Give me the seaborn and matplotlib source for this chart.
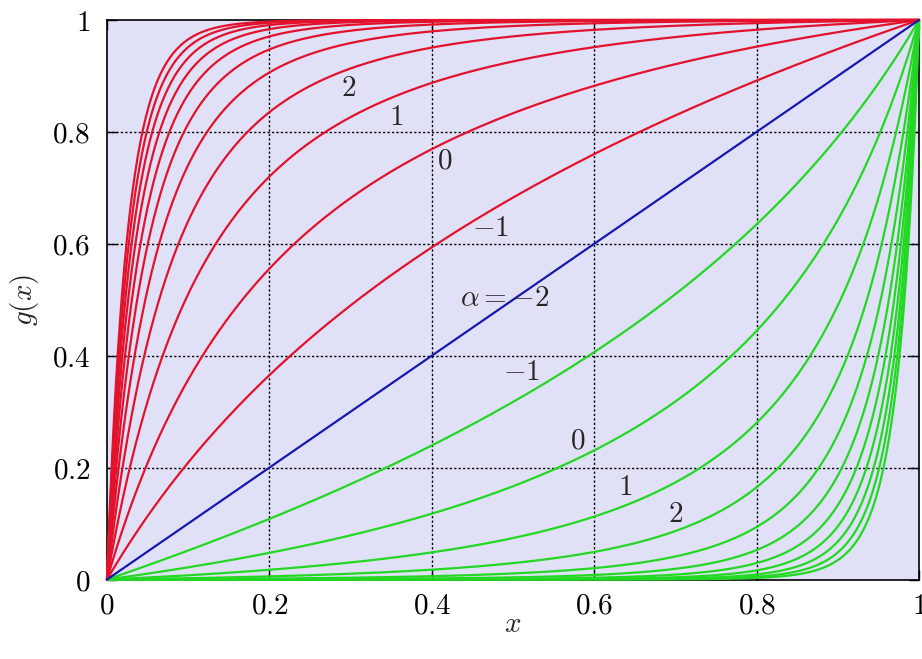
import numpy as np
import pandas as pd
import matplotlib
matplotlib.use("Agg")
import matplotlib.pyplot as plt
from matplotlib.ticker import FixedLocator
import seaborn as sns

# Family parameter values; alpha = -2 is the diagonal
alphas = [-2, -1, 0, 1, 2, 3, 4, 5, 6, 7, 8, 9]
spread = 4.0  # curvature constant c in g(x) = (1 - (1+cx)^-(a+1)) / (1 - (1+c)^-(a+1))

tick_values = [0, 0.2, 0.4, 0.6, 0.8, 1]
tick_labels = ["0", "0.2", "0.4", "0.6", "0.8", "1"]

# curve labels: text, x, y
upper_labels = [("2", 0.297, 0.878), ("1", 0.356, 0.826), ("0", 0.416, 0.749),
                ("-1", 0.472, 0.628)]
lower_labels = [("-1", 0.511, 0.371), ("0", 0.580, 0.249), ("1", 0.638, 0.165),
                ("2", 0.700, 0.117)]
diag_label = ("\\alpha = -2", 0.490, 0.503)

RED = "#e3122c"
GREEN = "#22d822"
BLUE = "#1818b0"
PANEL = "#e0e0f7"


def g_upper(x, a):
    n = a + 1
    if n == 0:
        return np.log1p(spread * x) / np.log1p(spread)
    return (1.0 - (1.0 + spread * x) ** (-n)) / (1.0 - (1.0 + spread) ** (-n))


xs = np.linspace(0.0, 1.0, 3001)
frames = []
for a in alphas:
    if a == -2:
        frames.append(pd.DataFrame({"x": xs, "g": g_upper(xs, a), "curve": "diag"}))
    else:
        frames.append(pd.DataFrame({"x": xs, "g": g_upper(xs, a), "curve": f"up{a}"}))
        frames.append(pd.DataFrame({"x": xs, "g": 1.0 - g_upper(1.0 - xs, a),
                                    "curve": f"lo{a}"}))
df = pd.concat(frames, ignore_index=True)

palette = {}
for key in df["curve"].unique():
    palette[key] = BLUE if key == "diag" else (RED if key.startswith("up") else GREEN)

sns.set_style("ticks")
plt.rcParams["font.family"] = ["DejaVu Serif"]
plt.rcParams["mathtext.fontset"] = "cm"

fig = plt.figure(figsize=(9.22, 6.59), dpi=100)
ax = fig.add_axes([107 / 922, 1 - 579.5 / 659, 812 / 922, 559.5 / 659])
ax.set_facecolor(PANEL)

# dotted grid underneath the curves
for v in [0.2, 0.4, 0.6, 0.8]:
    ax.axvline(v, color="black", lw=1.0, ls=(0, (1.6, 1.6)), zorder=1)
    ax.axhline(v, color="black", lw=1.0, ls=(0, (1.6, 1.6)), zorder=1)

order = [k for k in palette if k.startswith("lo")] + \
        [k for k in palette if k.startswith("up")] + ["diag"]
for key in order:
    sub = df[df["curve"] == key]
    sns.lineplot(data=sub, x="x", y="g", color=palette[key], lw=1.6,
                 estimator=None, sort=False, ax=ax, legend=False,
                 zorder=3, clip_on=False)

ax.set_xlim(0, 1)
ax.set_ylim(0, 1)

ax.xaxis.set_major_locator(FixedLocator(tick_values))
ax.yaxis.set_major_locator(FixedLocator(tick_values))
ax.set_xticklabels(["$" + t + "$" for t in tick_labels])
ax.set_yticklabels(["$" + t + "$" for t in tick_labels])
ax.tick_params(direction="in", length=7, width=1.0, top=True, right=True,
               labelsize=21, colors="black")
ax.tick_params(axis="x", pad=9)
ax.tick_params(axis="y", pad=12)
for s in ax.spines.values():
    s.set_linewidth(1.2)
    s.set_color("black")
    s.set_zorder(2)

ax.set_xlabel("$x$", fontsize=21, labelpad=-7)
ax.set_ylabel("$g(x)$", fontsize=21, labelpad=8)

for txt, x, y in upper_labels + lower_labels:
    ax.text(x, y, "$" + txt + "$", fontsize=21,
            ha="center", va="center", zorder=4)
ax.text(diag_label[1], diag_label[2], "$" + diag_label[0] + "$", fontsize=21,
        ha="center", va="center", zorder=4)

fig.savefig("out.png", dpi=100, facecolor="white")
